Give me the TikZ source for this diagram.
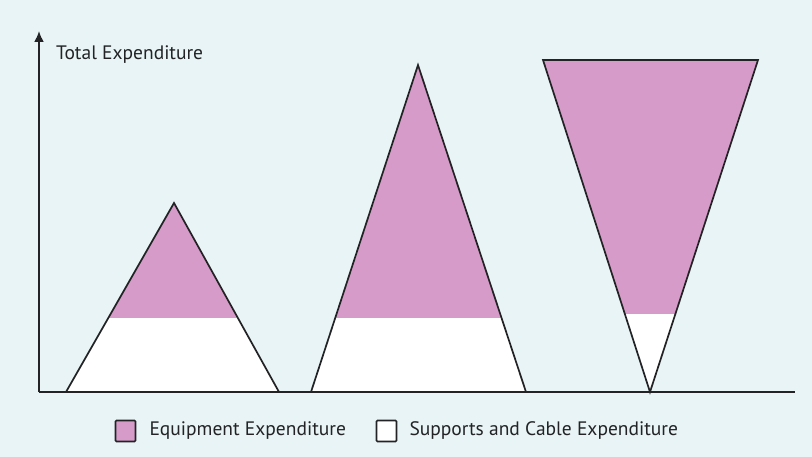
\documentclass[tikz,border=0pt]{standalone}
\usepackage{fontspec}
\setmainfont{PT Sans}
\usetikzlibrary{arrows.meta,positioning}
\definecolor{paper}{RGB}{232,244,245}
\definecolor{equip}{RGB}{214,155,201}
\definecolor{ink}{RGB}{35,35,38}
\tikzset{
  outline/.style={draw=ink, line width=1.7pt, line join=miter},
  axis/.style={draw=ink, line width=2pt},
  key/.style={draw=ink, line width=1.6pt, minimum width=20pt, minimum height=21pt, inner sep=0pt, rounded corners=1pt},
  lbl/.style={text=ink, inner sep=0pt, font=\fontsize{19.5}{23}\selectfont}
}
\begin{document}
\begin{tikzpicture}[x=1pt, y=-1pt]
  \fill[paper] (0,0) rectangle (812,457);
  \useasboundingbox (0,0) rectangle (812,457);
  \coordinate (o) at (39,392);
  \coordinate (ytop) at (39,31);
  \coordinate (xend) at (795,392);
  \coordinate (a1) at (66,392);
  \coordinate (b1) at (174,203);
  \coordinate (c1) at (279,392);
  \coordinate (a2) at (311,392);
  \coordinate (b2) at (418,65);
  \coordinate (c2) at (526,392);
  \coordinate (a3) at (543,60);
  \coordinate (b3) at (758,60);
  \coordinate (c3) at (650,392);
  \fill[equip] (a1) -- (b1) -- (c1) -- cycle;
  \fill[equip] (a2) -- (b2) -- (c2) -- cycle;
  \fill[equip] (a3) -- (b3) -- (c3) -- cycle;
  \begin{scope}
    \clip (0,319) rectangle (540,400);
    \fill[white] (a1) -- (b1) -- (c1) -- cycle;
    \fill[white] (a2) -- (b2) -- (c2) -- cycle;
  \end{scope}
  \begin{scope}
    \clip (540,315) rectangle (800,400);
    \fill[white] (a3) -- (b3) -- (c3) -- cycle;
  \end{scope}
  \draw[outline] (a1) -- (b1) -- (c1);
  \draw[outline] (a2) -- (b2) -- (c2);
  \draw[outline] (a3) -- (b3) -- (c3) -- cycle;
  \draw[axis, -{Latex[length=11pt, width=10pt]}] (o) -- (ytop);
  \draw[axis] (o) -- (xend);
  \node[lbl, anchor=west] (ttl) at (56,55) {Total Expenditure};
  \node[key, fill=equip] (k1) at (125.5,431) {};
  \node[lbl, right=13pt of k1] (l1) {Equipment Expenditure};
  \node[key, fill=white] (k2) at (386.5,431) {};
  \node[lbl, right=12pt of k2] (l2) {Supports and Cable Expenditure};
\end{tikzpicture}
\end{document}
